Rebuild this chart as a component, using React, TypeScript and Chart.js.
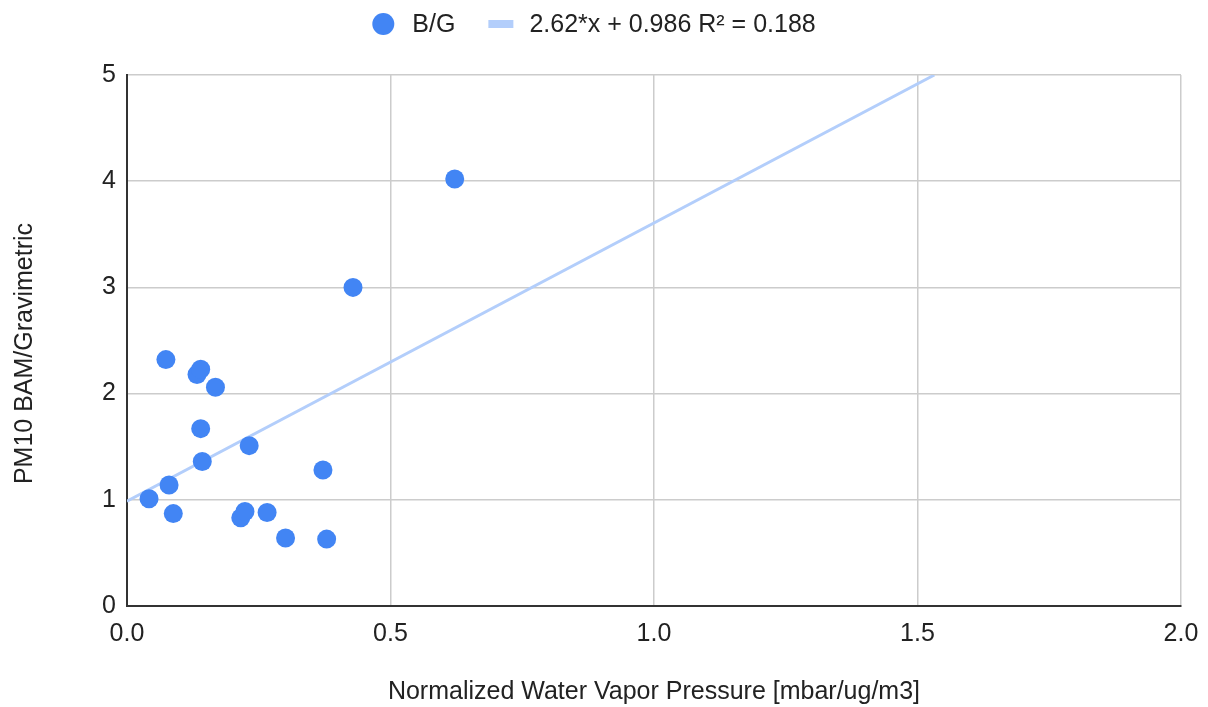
import React, { useEffect, useRef } from "react";
import { Chart, registerables } from "chart.js";

Chart.register(...registerables);

// Data
const xValues: number[] = [0.042, 0.074, 0.080, 0.088, 0.133, 0.140, 0.140, 0.143, 0.168, 0.216, 0.224, 0.232, 0.266, 0.301, 0.372, 0.379, 0.429, 0.622];
const yValues: number[] = [1.01, 2.32, 1.14, 0.87, 2.18, 2.23, 1.67, 1.36, 2.06, 0.83, 0.89, 1.51, 0.88, 0.64, 1.28, 0.63, 3.00, 4.02];
const seriesLabel = "B/G";
const trendSlope = 2.62;
const trendIntercept = 0.986;
const trendR2 = 0.188;
const trendXRange: number[] = [0, 1.532];
const xTicks: number[] = [0, 0.5, 1.0, 1.5, 2.0];
const yTicks: number[] = [0, 1, 2, 3, 4, 5];
const xTitle = "Normalized Water Vapor Pressure [mbar/ug/m3]";
const yTitle = "PM10 BAM/Gravimetric";

const POINT_COLOR = "#4285F4";
const TREND_COLOR = "#B3CEFB";
const FONT = "'Liberation Sans', Arial, sans-serif";
const TEXT = "#222222";
const FS = 25;

const legendPlugin = {
  id: "customLegend",
  afterDraw(chart: any) {
    const ctx = chart.ctx as CanvasRenderingContext2D;
    const ds = chart.data.datasets;
    ctx.save();
    ctx.font = `${FS}px ${FONT}`;
    ctx.textBaseline = "middle";
    ctx.fillStyle = TEXT;
    const label1 = ds[0].label as string;
    const label2 = ds[1].label as string;
    const w1 = ctx.measureText(label1).width;
    const w2 = ctx.measureText(label2).width;
    const total = 22 + 18 + w1 + 33 + 25 + 16 + w2;
    let x = chart.width / 2 - 10 - total / 2;
    const cy = 24;
    ctx.beginPath();
    ctx.fillStyle = POINT_COLOR;
    ctx.arc(x + 11, cy, 11, 0, Math.PI * 2);
    ctx.fill();
    x += 22 + 18;
    ctx.fillStyle = TEXT;
    ctx.fillText(label1, x, cy + 1);
    x += w1 + 33;
    ctx.fillStyle = TREND_COLOR;
    ctx.fillRect(x, cy - 4, 25, 8);
    x += 25 + 16;
    ctx.fillStyle = TEXT;
    ctx.fillText(label2, x, cy + 1);

    // y-axis title, drawn slightly below the axis centre as in the reference
    const yScale = chart.scales.y;
    const cx = yScale.left + 10 + (FS * 1.2) / 2;
    const mid = (chart.chartArea.top + chart.chartArea.bottom) / 2 + 13;
    ctx.translate(cx, mid);
    ctx.rotate(-Math.PI / 2);
    ctx.textAlign = "center";
    ctx.textBaseline = "middle";
    ctx.fillStyle = TEXT;
    ctx.fillText(yTitle, 0, 0);
    ctx.restore();
  },
};

export default function App() {
  const ref = useRef<HTMLCanvasElement | null>(null);

  useEffect(() => {
    if (!ref.current) return;
    const scatter = xValues.map((x, i) => ({ x, y: yValues[i] }));
    const trend = trendXRange.map((x) => ({ x, y: trendSlope * x + trendIntercept }));
    const chart = new Chart(ref.current, {
      type: "scatter",
      data: {
        datasets: [
          {
            label: seriesLabel,
            data: scatter,
            backgroundColor: POINT_COLOR,
            borderColor: POINT_COLOR,
            pointRadius: 9.5,
            pointHoverRadius: 9.5,
            borderWidth: 0,
            order: 1,
          },
          {
            label: `${trendSlope}*x + ${trendIntercept} R² = ${trendR2}`,
            data: trend,
            type: "line",
            showLine: true,
            borderColor: TREND_COLOR,
            backgroundColor: TREND_COLOR,
            borderWidth: 3,
            pointRadius: 0,
            fill: false,
            order: 2,
          } as any,
        ],
      },
      options: {
        animation: false,
        responsive: false,
        maintainAspectRatio: false,
        layout: { padding: { top: 75, right: 27, bottom: 0, left: 0 } },
        plugins: {
          legend: { display: false },
          tooltip: { enabled: false },
        },
        scales: {
          x: {
            type: "linear",
            min: 0,
            max: 2,
            afterBuildTicks: (axis: any) => {
              axis.ticks = xTicks.map((v) => ({ value: v }));
            },
            afterFit: (axis: any) => {
              axis.paddingRight = 0;
            },
            ticks: {
              callback: (v: any) => Number(v).toFixed(1),
              font: { family: FONT, size: FS },
              color: TEXT,
              padding: 13,
              maxRotation: 0,
            },
            grid: { color: "#cccccc", lineWidth: 1.5, drawTicks: false },
            border: { color: "#333333", width: 2 },
            title: {
              display: true,
              text: xTitle,
              font: { family: FONT, size: FS },
              color: TEXT,
              padding: { top: 15, bottom: 0 },
            },
          },
          y: {
            type: "linear",
            min: 0,
            max: 5,
            afterBuildTicks: (axis: any) => {
              axis.ticks = yTicks.map((v) => ({ value: v }));
            },
            ticks: {
              font: { family: FONT, size: FS },
              color: TEXT,
              padding: 11,
            },
            grid: { color: "#cccccc", lineWidth: 1.5, drawTicks: false },
            border: { color: "#333333", width: 2 },
            title: {
              display: true,
              text: yTitle,
              font: { family: FONT, size: FS },
              color: "rgba(0,0,0,0)",
              padding: { top: 10, bottom: 51 },
            },
          },
        },
      },
      plugins: [legendPlugin],
    });
    return () => chart.destroy();
  }, []);

  return (
    <div style={{ position: "absolute", left: 0, top: 0, width: 1208, height: 707, background: "#fff" }}>
      <canvas ref={ref} width={1208} height={707} style={{ width: 1208, height: 707 }} />
    </div>
  );
}
